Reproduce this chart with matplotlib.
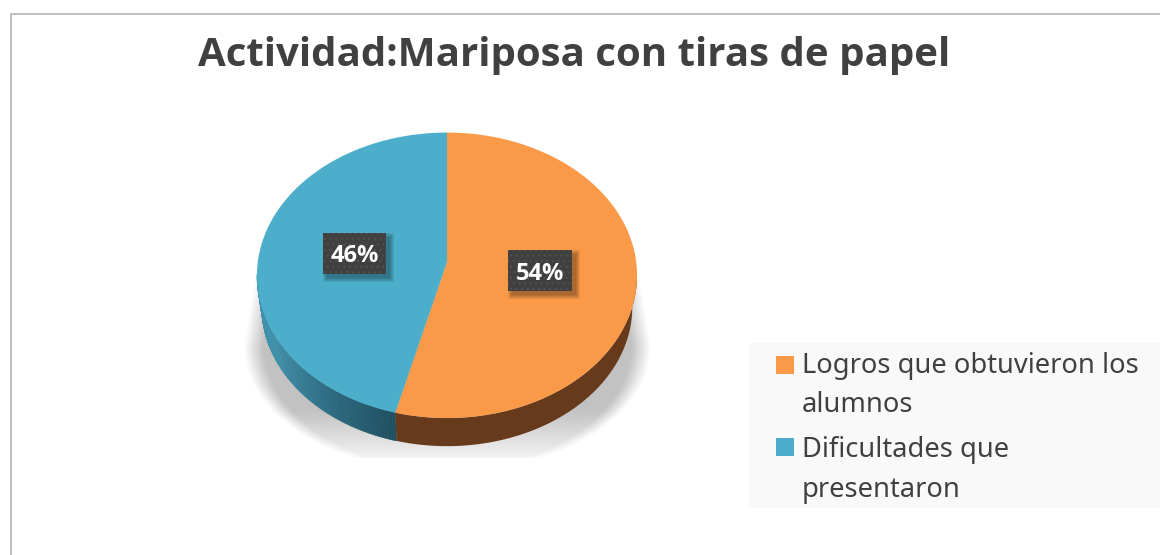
import numpy as np
import matplotlib
matplotlib.use('Agg')
import matplotlib.pyplot as plt
from matplotlib.patches import Polygon, Rectangle

labels = ['Logros que obtuvieron los\nalumnos', 'Dificultades que\npresentaron']
values = [54, 46]
pct_labels = ['54%', '46%']
titulo = 'Actividad:Mariposa con tiras de papel'

naranja = '#FA9A49'
azul = '#4CAECA'
gris_texto = '#404040'
plt.rcParams['font.family'] = ['Noto Sans', 'DejaVu Sans']
plt.rcParams['hatch.linewidth'] = 0.6

W, H = 1160, 555
fig = plt.figure(figsize=(W / 100, H / 100), dpi=100)
ax = fig.add_axes([0, 0, 1, 1])

# pie geometry in pixels, p = perspective
cx, cy = 447, 262
bx, by, p = 189.2, 141.5, 0.0933
depth, shrink = 32, 0.975


def rim(theta, escala=1.0, baja=0.0):
    u, v = np.cos(theta), np.sin(theta)
    x = cx + escala * bx * u / (1 + p * v)
    y = cy - escala * by * v / (1 + p * v) + baja
    return x, y


# soft shadow under the pie
yy, xx = np.mgrid[0:H, 0:W]
mitad = np.where(yy < 345, 204 - (345 - yy) * 13 / 80, 204 * np.sqrt(np.clip(1 - ((yy - 345) / 128.0) ** 2, 0, 1)))
dist = (mitad - np.abs(xx - cx)) / 20.0
alfa = np.clip(dist, 0, 1) * np.clip((yy - 258) / 30.0, 0, 1) * (yy < 458)
alfa = alfa * np.clip((470 - yy) / 60.0, 0.08, 1) * 0.24
img = np.zeros((H, W, 4))
img[..., 3] = alfa
ax.imshow(img, extent=(0, W, H, 0), origin='upper', aspect='auto', zorder=1, interpolation='bilinear')

# slice angles from the values, clockwise from 12 o'clock
corte = np.pi / 2 - 2 * np.pi * values[0] / sum(values)
c0 = np.array(matplotlib.colors.to_rgb('#3F90AA'))
c1 = np.array(matplotlib.colors.to_rgb('#1F4F61'))

# side wall
th_azul = np.linspace(np.radians(185), corte + 2 * np.pi, 80)
for i in range(len(th_azul) - 1):
    t = th_azul[i:i + 2]
    x1, y1 = rim(t)
    x2, y2 = rim(t[::-1], shrink, depth)
    f = i / (len(th_azul) - 2)
    f = max(0, (f - 0.35) / 0.65) if i else 0
    ax.add_patch(Polygon(np.c_[np.r_[x1, x2], np.r_[y1, y2]], closed=True,
                         fc=c0 + (c1 - c0) * f, ec=c0 + (c1 - c0) * f, lw=0.4, zorder=2))
th_nar = np.linspace(corte, np.radians(-5), 80)
x1, y1 = rim(th_nar)
x2, y2 = rim(th_nar[::-1], shrink, depth)
ax.add_patch(Polygon(np.c_[np.r_[x1, x2], np.r_[y1, y2]], closed=True, fc='#663A1B', ec='none', zorder=2))

# top of the pie
th1 = np.linspace(np.pi / 2, corte, 200)
x, y = rim(th1)
ax.add_patch(Polygon(np.c_[np.r_[cx, x], np.r_[cy, y]], closed=True, fc=naranja, ec='none', zorder=3))
th2 = np.linspace(corte + 2 * np.pi, np.pi / 2, 200)
x, y = rim(th2)
ax.add_patch(Polygon(np.c_[np.r_[cx, x], np.r_[cy, y]], closed=True, fc=azul, ec='none', zorder=3))

# data labels
for txt, (bx0, by0, bw, bh) in zip(pct_labels, [(508, 250, 64, 41), (323, 233, 63, 41)]):
    for k in range(1, 6):
        ax.add_patch(Rectangle((bx0 + 5 - k, by0 + 5 - k), bw + 2 * k - 2, bh + 2 * k - 2,
                               fc='k', ec='none', alpha=0.07, zorder=4))
    ax.add_patch(Rectangle((bx0, by0), bw, bh, fc='#404040', ec='#555555', lw=0, hatch='...', zorder=5))
    ax.text(bx0 + bw / 2, by0 + bh / 2 + 3, txt, color='white', fontsize=17, fontweight='bold',
            family='Open Sans', ha='center', va='center', zorder=6)

# legend
ax.add_patch(Rectangle((749, 343), 411, 165, fc='#F9F9F9', ec='none', zorder=1))
for lab, col, y_sw, y_base in zip(labels, [naranja, azul], [356, 438], [373, 457]):
    ax.add_patch(Rectangle((776, y_sw), 18, 18, fc=col, ec='none', zorder=2))
    l1, l2 = lab.split('\n')
    ax.text(802, y_base, l1, color=gris_texto, fontsize=19.65, va='baseline', ha='left', zorder=3)
    ax.text(802, y_base + 39.5, l2, color=gris_texto, fontsize=19.65, va='baseline', ha='left', zorder=3)

ax.text(574, 66, titulo, color=gris_texto, fontsize=29, fontweight='bold', family='Open Sans',
        ha='center', va='baseline', zorder=3)

# chart frame, only top and left are in the crop
ax.add_patch(Rectangle((10, 13), W - 10, 2, fc='#BFBFBF', ec='none', zorder=2))
ax.add_patch(Rectangle((10, 13), 2, H - 13, fc='#BFBFBF', ec='none', zorder=2))

ax.set_xlim(0, W)
ax.set_ylim(H, 0)
ax.axis('off')
plt.savefig('out.png', dpi=100)
